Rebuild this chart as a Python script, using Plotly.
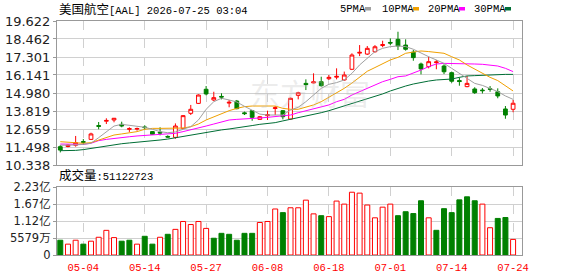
import plotly.graph_objects as go

dates = ["2026-04-29", "2026-04-30", "2026-05-01", "2026-05-04", "2026-05-05", "2026-05-06", "2026-05-07", "2026-05-08",
         "2026-05-11", "2026-05-12", "2026-05-13", "2026-05-14", "2026-05-15", "2026-05-18", "2026-05-19", "2026-05-20",
         "2026-05-21", "2026-05-22", "2026-05-26", "2026-05-27", "2026-05-28", "2026-05-29", "2026-06-01", "2026-06-02",
         "2026-06-03", "2026-06-04", "2026-06-05", "2026-06-08", "2026-06-09", "2026-06-10", "2026-06-11", "2026-06-12",
         "2026-06-15", "2026-06-16", "2026-06-17", "2026-06-18", "2026-06-22", "2026-06-23", "2026-06-24", "2026-06-25",
         "2026-06-26", "2026-06-29", "2026-06-30", "2026-07-01", "2026-07-02", "2026-07-06", "2026-07-07", "2026-07-08",
         "2026-07-09", "2026-07-10", "2026-07-13", "2026-07-14", "2026-07-15", "2026-07-16", "2026-07-17", "2026-07-20",
         "2026-07-21", "2026-07-22", "2026-07-23", "2026-07-24"]

open_ = [11.52, 11.53, 11.61, 11.85, 11.99, 12.88, 13.16, 13.24, 12.96, 12.64,
         12.65, 12.79, 12.49, 12.45, 12.18, 12.12, 12.70, 13.67, 14.31, 15.22,
         14.53, 14.76, 14.33, 14.46, 13.70, 13.84, 13.28, 13.52, 13.98, 13.84,
         13.30, 14.83, 15.60, 15.63, 15.71, 15.90, 16.00, 15.82, 16.51, 17.55,
         17.49, 17.64, 18.04, 18.24, 18.44, 18.07, 17.61, 16.85, 16.68, 16.94,
         16.72, 16.29, 15.78, 15.39, 15.24, 15.17, 15.26, 15.06, 13.95, 13.93]
high = [11.63, 11.68, 12.21, 12.01, 12.42, 13.11, 13.35, 13.37, 13.13, 12.77,
        12.75, 12.90, 12.53, 12.77, 12.25, 13.02, 13.56, 14.21, 14.89, 15.43,
        15.06, 14.96, 14.53, 14.53, 13.78, 13.88, 13.50, 13.84, 14.14, 13.88,
        14.68, 15.06, 15.86, 16.25, 16.03, 16.14, 16.57, 16.36, 17.54, 18.07,
        18.01, 18.07, 18.35, 18.50, 18.93, 18.44, 17.75, 16.94, 17.32, 17.11,
        16.83, 16.36, 15.99, 16.08, 15.35, 15.30, 15.43, 15.28, 14.14, 14.53]
low = [11.15, 11.48, 11.52, 11.63, 11.95, 12.64, 12.98, 13.09, 12.77, 12.47,
       12.55, 12.62, 12.28, 12.25, 12.10, 12.03, 12.66, 13.56, 14.27, 14.83,
       14.46, 14.57, 14.06, 13.93, 13.56, 13.19, 13.24, 13.24, 13.56, 13.28,
       13.28, 14.57, 15.17, 15.60, 15.39, 15.82, 15.86, 15.77, 16.46, 17.36,
       17.43, 17.58, 17.93, 18.07, 17.75, 17.71, 17.06, 16.18, 16.57, 16.51,
       16.20, 15.64, 15.45, 15.35, 14.92, 14.95, 15.06, 14.64, 13.32, 13.74]
close = [11.30, 11.62, 11.78, 11.80, 12.34, 12.83, 13.21, 13.35, 12.85, 12.68,
         12.69, 12.75, 12.32, 12.40, 12.14, 12.85, 13.52, 13.93, 14.85, 14.92,
         14.68, 14.72, 14.38, 13.97, 13.65, 13.41, 13.45, 13.58, 14.03, 13.45,
         14.64, 15.00, 15.52, 15.70, 15.45, 15.99, 16.05, 16.14, 17.43, 17.60,
         17.86, 17.96, 18.10, 18.20, 18.01, 17.80, 17.26, 16.53, 17.00, 16.98,
         16.35, 15.74, 15.72, 15.60, 15.00, 15.13, 15.22, 14.79, 13.56, 14.32]

ma5 = [11.61, 11.61, 11.63, 11.67, 11.74, 12.10, 12.50, 12.85, 12.96, 12.90,
       12.81, 12.77, 12.64, 12.49, 12.42, 12.47, 12.64, 12.81, 13.24, 13.93,
       14.42, 14.64, 14.53, 14.40, 14.12, 13.85, 13.62, 13.56, 13.56, 13.56,
       13.88, 14.06, 14.42, 14.85, 15.28, 15.54, 15.65, 15.82, 16.25, 16.79,
       17.22, 17.65, 17.86, 17.97, 18.01, 17.97, 17.80, 17.54, 17.32, 17.11,
       16.89, 16.57, 16.25, 15.93, 15.60, 15.47, 15.28, 15.07, 14.79, 14.57]
ma10 = [11.84, 11.82, 11.78, 11.74, 11.78, 11.95, 12.12, 12.27, 12.34, 12.42,
        12.49, 12.64, 12.70, 12.70, 12.70, 12.70, 12.72, 12.81, 12.98, 13.24,
        13.45, 13.67, 13.84, 13.99, 14.10, 14.14, 14.14, 14.14, 14.14, 13.99,
        13.93, 13.93, 14.06, 14.21, 14.42, 14.70, 14.97, 15.28, 15.62, 16.02,
        16.38, 16.62, 16.89, 17.11, 17.28, 17.54, 17.62, 17.69, 17.65, 17.60,
        17.54, 17.32, 17.11, 16.79, 16.51, 16.25, 15.99, 15.78, 15.43, 15.11]
ma20 = [11.69, 11.69, 11.67, 11.67, 11.74, 11.91, 11.99, 12.06, 12.12, 12.16,
        12.21, 12.25, 12.29, 12.32, 12.34, 12.38, 12.49, 12.60, 12.70, 12.85,
        12.98, 13.13, 13.24, 13.28, 13.30, 13.35, 13.37, 13.41, 13.45, 13.50,
        13.56, 13.71, 13.84, 13.93, 14.06, 14.21, 14.42, 14.57, 14.85, 15.07,
        15.28, 15.50, 15.71, 15.86, 16.03, 16.08, 16.25, 16.46, 16.68, 16.85,
        16.89, 16.89, 16.89, 16.89, 16.85, 16.83, 16.79, 16.72, 16.57, 16.36]
ma30 = [11.26, 11.26, 11.28, 11.33, 11.41, 11.50, 11.58, 11.65, 11.71, 11.76,
        11.80, 11.86, 11.91, 11.95, 12.01, 12.10, 12.19, 12.25, 12.34, 12.42,
        12.51, 12.60, 12.66, 12.75, 12.81, 12.88, 12.96, 13.02, 13.07, 13.18,
        13.28, 13.39, 13.50, 13.61, 13.71, 13.84, 13.99, 14.16, 14.31, 14.46,
        14.59, 14.74, 14.92, 15.11, 15.28, 15.43, 15.56, 15.67, 15.75, 15.82,
        15.86, 15.88, 15.99, 16.08, 16.10, 16.12, 16.18, 16.18, 16.18, 16.18]

volume = [48.5e6, 35.6e6, 48.5e6, 35.6e6, 45.3e6, 58.2e6, 80.9e6, 57.1e6, 45.3e6, 48.5e6,
          35.6e6, 61.4e6, 35.6e6, 58.2e6, 67.9e6, 84.1e6, 110e6, 100e6, 110e6, 87.3e6,
          55.0e6, 71.1e6, 67.9e6, 48.5e6, 71.1e6, 71.1e6, 106.7e6, 110e6, 151e6, 139e6,
          155e6, 155e6, 180e6, 135e6, 129e6, 126e6, 177e6, 167e6, 206e6, 203e6,
          164e6, 122e6, 157e6, 167e6, 129e6, 142e6, 136e6, 178e6, 122e6, 81e6,
          152e6, 139e6, 181e6, 191e6, 178e6, 167e6, 89.5e6, 120e6, 123e6, 51122723]
vol_up = [0, 1, 1, 0, 1, 1, 1, 1, 0, 0,
          1, 0, 0, 1, 0, 1, 1, 1, 1, 1,
          0, 0, 0, 0, 0, 0, 1, 1, 1, 0,
          1, 1, 1, 1, 0, 1, 1, 1, 1, 1,
          1, 1, 1, 1, 0, 0, 0, 0, 1, 0,
          0, 0, 0, 0, 0, 1, 1, 0, 0, 1]

price_ticks = [10.338, 11.498, 12.659, 13.819, 14.980, 16.141, 17.301, 18.462, 19.622]
vol_ticks = [0, 55790000, 111580000, 167370000, 223160000]
vol_tick_text = ["0", "5579万", "1.12亿", "1.67亿", "2.23亿"]
x_tick_dates = ["2026-05-04", "2026-05-14", "2026-05-27", "2026-06-08",
                "2026-06-18", "2026-07-01", "2026-07-14", "2026-07-24"]
x_tick_text = ["05-04", "05-14", "05-27", "06-08", "06-18", "07-01", "07-14", "07-24"]
ma_names = ["5PMA", "10PMA", "20PMA", "30PMA"]
ma_colors = ["#a0a0a0", "#f0a000", "#ff00ff", "#006e35"]

RED = "#ff0000"
GREEN = "#008000"
W, H = 578, 276
ML, MR, MT, MB = 57, 56, 21, 21
PW = W - ML - MR
PH = H - MT - MB


def px(x):
    return (x - ML) / PW


def py(y):
    return (H - MB - y) / PH


fig = go.Figure()

for vals, col in zip([ma30, ma20, ma10, ma5], ma_colors[::-1]):
    fig.add_trace(go.Scatter(x=dates, y=vals, mode="lines", line=dict(color=col, width=1),
                             xaxis="x", yaxis="y", hoverinfo="skip", showlegend=False))

fig.add_trace(go.Candlestick(
    x=dates, open=open_, high=high, low=low, close=close,
    increasing=dict(line=dict(color=RED, width=1), fillcolor="white"),
    decreasing=dict(line=dict(color=GREEN, width=1), fillcolor=GREEN),
    whiskerwidth=0, xaxis="x", yaxis="y", showlegend=False))

fig.add_trace(go.Bar(
    x=dates, y=volume, xaxis="x2", yaxis="y2", showlegend=False,
    marker=dict(color=["white" if u else GREEN for u in vol_up],
                line=dict(color=[RED if u else GREEN for u in vol_up], width=1))))

grid = "#d0d0d0"
border = "#999999"
xcommon = dict(type="category", range=[-0.43, 60.16], tickvals=x_tick_dates, ticktext=x_tick_text,
               showgrid=True, gridcolor=grid, griddash="dash", gridwidth=1,
               showline=True, mirror=True, linecolor=border, linewidth=1, ticks="",
               zeroline=False, fixedrange=True, automargin=False)

fig.update_layout(
    width=W, height=H, margin=dict(l=ML, r=MR, t=MT, b=MB, autoexpand=False),
    paper_bgcolor="white", plot_bgcolor="white", bargap=0.35, boxgap=0.3,
    xaxis=dict(**xcommon, anchor="y", domain=[0, 1], showticklabels=False,
               rangeslider=dict(visible=False)),
    xaxis2=dict(**xcommon, anchor="y2", domain=[0, 1], matches="x", showticklabels=True,
                tickfont=dict(family="Liberation Mono", size=10.5, color=RED),
                ticklabelstandoff=2),
    yaxis=dict(domain=[py(165), 1], range=[price_ticks[0], price_ticks[-1]],
               tickvals=price_ticks, ticktext=[f"{v:.3f}" for v in price_ticks],
               showgrid=True, gridcolor=grid, showline=True, mirror=True, linecolor=border,
               ticks="outside", ticklen=3, tickcolor=border, zeroline=False, automargin=False,
               tickfont=dict(family="DejaVu Sans", size=13, color="#222")),
    yaxis2=dict(domain=[0, py(187)], range=[0, vol_ticks[-1]], tickvals=vol_ticks,
                ticktext=vol_tick_text, showgrid=True, gridcolor=grid, showline=True,
                mirror=True, linecolor=border, ticks="outside", ticklen=3, tickcolor=border,
                zeroline=False, automargin=False,
                tickfont=dict(family="DejaVu Sans, Noto Sans CJK SC", size=11.5, color="#222")),
)

annotations = [
    dict(x=px(310), y=py(92), text="东方财富", showarrow=False, xanchor="center", yanchor="middle",
         font=dict(family="Noto Sans CJK SC", size=30, color="rgba(190,190,190,0.28)")),
    dict(x=px(57), y=py(10), text='<span style="font-size:12.5px">美国航空</span>[AAL] 2026-07-25 03:04',
         showarrow=False, xanchor="left", yanchor="middle",
         font=dict(family="Liberation Mono, Noto Sans CJK SC", size=10.5, color="#000")),
    dict(x=px(57), y=py(176), text='<span style="font-size:12.5px">成交量</span>:51122723',
         showarrow=False, xanchor="left", yanchor="middle",
         font=dict(family="Liberation Mono, Noto Sans CJK SC", size=10.5, color="#000")),
]
legend_text_x = [338, 380, 426, 472]
legend_sq_x = [365, 413, 459, 505]
shapes = []
for name, col, tx, sx in zip(ma_names, ma_colors, legend_text_x, legend_sq_x):
    annotations.append(dict(x=px(tx), y=py(9), text=name, showarrow=False, xanchor="left",
                            yanchor="middle", xref="paper", yref="paper",
                            font=dict(family="Liberation Mono", size=10.5, color="#000")))
    shapes.append(dict(type="rect", xref="paper", yref="paper", x0=px(sx), x1=px(sx + 6),
                       y0=py(10.5), y1=py(7), fillcolor=col, line=dict(width=0)))
for a in annotations:
    a.setdefault("xref", "paper")
    a.setdefault("yref", "paper")
fig.update_layout(annotations=annotations, shapes=shapes)

fig.write_html("out.html")
